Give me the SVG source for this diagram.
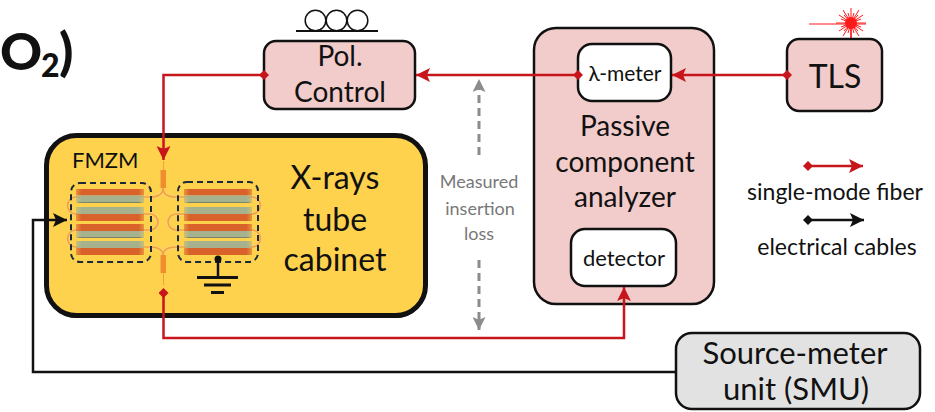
<svg xmlns="http://www.w3.org/2000/svg" width="935" height="412" viewBox="0 0 935 412">
  <style>
    text { font-family: Lato, "Open Sans", "Liberation Sans", sans-serif; fill: #111; }
    .lbl { text-anchor: middle; }
    .box { stroke: #111; stroke-width: 2.5; }
    .pink { fill: #F2CBCB; }
    .white { fill: #FFFFFF; }
    .fiber { fill: none; stroke: #C8151B; stroke-width: 2.5; }
    .wire { fill: none; stroke: #111; stroke-width: 2.5; }
    .meas { fill: none; stroke: #8C8C8C; stroke-width: 3; stroke-dasharray: 8 5; }
    .note { fill: #787878; }
    .wg { fill: none; stroke: #F3A23A; stroke-width: 1.6; }
    .wgGlow { fill: none; stroke: #FBD27E; stroke-width: 4; opacity: 0.7; }
    .org { fill: #D9622B; }
    .grn { fill: #A6B28E; }
    .dash { fill: none; stroke: #1B2A3A; stroke-width: 2; stroke-dasharray: 6 4; }
  </style>
  <defs>
    <marker id="arrRed" viewBox="0 0 14 14" refX="14" refY="7" markerWidth="14" markerHeight="14" markerUnits="userSpaceOnUse" orient="auto">
      <path d="M0,0 L14,7 L0,14 L3,7 z" fill="#C8151B"/>
    </marker>
    <marker id="dmRed" viewBox="0 0 10 10" refX="5" refY="5" markerWidth="10" markerHeight="10" markerUnits="userSpaceOnUse" orient="auto">
      <path d="M5,0 L10,5 L5,10 L0,5 z" fill="#C8151B"/>
    </marker>
    <marker id="arrBlk" viewBox="0 0 14 14" refX="14" refY="7" markerWidth="14" markerHeight="14" markerUnits="userSpaceOnUse" orient="auto">
      <path d="M0,0 L14,7 L0,14 L3,7 z" fill="#111"/>
    </marker>
    <marker id="dmBlk" viewBox="0 0 10 10" refX="5" refY="5" markerWidth="10" markerHeight="10" markerUnits="userSpaceOnUse" orient="auto">
      <path d="M5,0 L10,5 L5,10 L0,5 z" fill="#111"/>
    </marker>
    <marker id="arrGray" viewBox="0 0 14 14" refX="14" refY="7" markerWidth="13" markerHeight="13" markerUnits="userSpaceOnUse" orient="auto">
      <path d="M0,0 L14,7 L0,14 L3,7 z" fill="#8C8C8C"/>
    </marker>
    <linearGradient id="fadeEdges" x1="0" x2="1" y1="0" y2="0">
      <stop offset="0" stop-color="#fff" stop-opacity="0.55"/>
      <stop offset="0.08" stop-color="#fff" stop-opacity="1"/>
      <stop offset="0.92" stop-color="#fff" stop-opacity="1"/>
      <stop offset="1" stop-color="#fff" stop-opacity="0.55"/>
    </linearGradient>
    <mask id="barMask" maskContentUnits="objectBoundingBox">
      <rect x="0" y="0" width="1" height="1" fill="url(#fadeEdges)"/>
    </mask>
    <!-- one electrode stack: four bars of orange/green stripes -->
    <g id="stack">
      <rect class="org" x="0" y="0" width="68" height="6.5"/>
      <rect class="grn" x="0" y="6.5" width="68" height="7.5"/>
      <rect x="2" y="13" width="64" height="1" fill="#5E6650" opacity="0.6"/>
      <rect class="grn" x="0" y="18" width="68" height="7"/>
      <rect class="org" x="0" y="25" width="68" height="7"/>
      <rect class="org" x="0" y="35" width="68" height="7"/>
      <rect class="grn" x="0" y="42" width="68" height="7"/>
      <rect x="2" y="48" width="64" height="1" fill="#5E6650" opacity="0.6"/>
      <rect class="grn" x="0" y="52" width="68" height="7"/>
      <rect class="org" x="0" y="59" width="68" height="7"/>
    </g>
  </defs>

  <!-- heading in the top-left corner -->
  <g id="heading">
    <text x="0" y="70" font-size="52" style="font-weight:900">O</text>
    <text x="41" y="77" font-size="32" style="font-weight:900">2</text>
    <text x="59" y="70" font-size="52" style="font-weight:900">)</text>
  </g>

  <!-- X-ray cabinet with the FMZM chip -->
  <g id="cabinet">
    <rect x="47" y="138" width="379" height="180" rx="30" fill="#111"/>
    <rect x="46.5" y="135.5" width="379" height="180" rx="30" fill="#FFD24D" stroke="#111" stroke-width="5"/>
    <text x="72" y="168" font-size="22">FMZM</text>
    <text class="lbl" x="335" y="189" font-size="32">X-rays</text>
    <text class="lbl" x="335" y="231" font-size="32">tube</text>
    <text class="lbl" x="335" y="271" font-size="32">cabinet</text>
  </g>

  <g id="fmzm">
    <!-- waveguides (glow + core) -->
    <g>
      <path class="wgGlow" d="M163,188 Q163,197 150,197 L76,197 A8.5,8.5 0 0 0 76,214 L150,214 A8,8 0 0 1 150,230 L76,230 A8.5,8.5 0 0 0 76,247 L150,247 Q163,247 163,256"/>
      <path class="wgGlow" d="M163,188 Q163,197 176,197 L252,197 A8.5,8.5 0 0 1 252,214 L176,214 A8,8 0 0 0 176,230 L252,230 A8.5,8.5 0 0 1 252,247 L176,247 Q163,247 163,256"/>
      <path class="wg" d="M163,188 Q163,197 150,197 L76,197 A8.5,8.5 0 0 0 76,214 L150,214 A8,8 0 0 1 150,230 L76,230 A8.5,8.5 0 0 0 76,247 L150,247 Q163,247 163,256"/>
      <path class="wg" d="M163,188 Q163,197 176,197 L252,197 A8.5,8.5 0 0 1 252,214 L176,214 A8,8 0 0 0 176,230 L252,230 A8.5,8.5 0 0 1 252,247 L176,247 Q163,247 163,256"/>
    </g>
    <!-- fiber pigtails -->
    <rect x="160.5" y="170" width="5.5" height="18" fill="#EE8E2E"/>
    <rect x="160.5" y="255" width="5.5" height="18" fill="#EE8E2E"/>
    <line x1="163.5" y1="161" x2="163.5" y2="170" stroke="#F3A23A" stroke-width="1"/>
    <line x1="163.5" y1="273" x2="163.5" y2="285" stroke="#F3A23A" stroke-width="1"/>
    <!-- electrode stacks -->
    <use href="#stack" x="76" y="189" mask="url(#barMask)"/>
    <use href="#stack" x="184" y="189" mask="url(#barMask)"/>
    <rect class="dash" x="71" y="183" width="80" height="79" rx="9"/>
    <rect class="dash" x="178" y="182" width="80" height="80" rx="9"/>
    <!-- ground -->
    <circle cx="218" cy="259" r="3.5" fill="#111"/>
    <line x1="218" y1="259" x2="218" y2="277" stroke="#111" stroke-width="2.5"/>
    <line x1="197" y1="277.5" x2="238" y2="277.5" stroke="#111" stroke-width="3"/>
    <line x1="204" y1="285" x2="231" y2="285" stroke="#111" stroke-width="3"/>
    <line x1="211" y1="292.5" x2="224" y2="292.5" stroke="#111" stroke-width="3"/>
  </g>

  <!-- polarization controller -->
  <g id="pol-control">
    <circle cx="315.5" cy="20.5" r="10.3" fill="#fff" stroke="#111" stroke-width="1.5"/>
    <circle cx="336.5" cy="20.5" r="10.3" fill="#fff" stroke="#111" stroke-width="1.5"/>
    <circle cx="357.5" cy="20.5" r="10.3" fill="#fff" stroke="#111" stroke-width="1.5"/>
    <line x1="296" y1="31" x2="378" y2="31" stroke="#111" stroke-width="2"/>
    <rect class="box pink" x="264" y="41" width="151" height="68" rx="12"/>
    <text class="lbl" x="340" y="66" font-size="28">Pol.</text>
    <text class="lbl" x="340" y="102" font-size="28">Control</text>
  </g>

  <!-- passive component analyzer -->
  <g id="analyzer">
    <rect class="box pink" x="534" y="28" width="180" height="276" rx="22"/>
    <text class="lbl" x="625" y="136" font-size="28">Passive</text>
    <text class="lbl" x="625" y="172" font-size="28">component</text>
    <text class="lbl" x="625" y="207" font-size="28">analyzer</text>
  </g>
  <g id="lambda-meter">
    <rect class="box white" x="578" y="44" width="93" height="57" rx="14"/>
    <text class="lbl" x="625" y="81" font-size="21">λ-meter</text>
  </g>
  <g id="detector">
    <rect class="box white" x="571" y="229" width="105" height="57" rx="14"/>
    <text class="lbl" x="624" y="266" font-size="22">detector</text>
  </g>

  <!-- tunable laser source -->
  <g id="tls">
    <line x1="809" y1="24" x2="866" y2="24" stroke="#FF1A1A" stroke-width="1.2"/>
    <line x1="851" y1="24" x2="851" y2="39" stroke="#FF1A1A" stroke-width="1.5"/>
    <g stroke="#FF1A1A" stroke-width="1" transform="translate(851,23)">
      <line x1="0" y1="0" x2="15" y2="0"/><line x1="0" y1="0" x2="10" y2="4"/>
      <line x1="0" y1="0" x2="12" y2="8"/><line x1="0" y1="0" x2="7" y2="8"/>
      <line x1="0" y1="0" x2="8" y2="13"/><line x1="0" y1="0" x2="3" y2="10"/>
      <line x1="0" y1="0" x2="0" y2="15"/><line x1="0" y1="0" x2="-3" y2="10"/>
      <line x1="0" y1="0" x2="-8" y2="13"/><line x1="0" y1="0" x2="-7" y2="8"/>
      <line x1="0" y1="0" x2="-12" y2="8"/><line x1="0" y1="0" x2="-10" y2="4"/>
      <line x1="0" y1="0" x2="-15" y2="0"/><line x1="0" y1="0" x2="-10" y2="-4"/>
      <line x1="0" y1="0" x2="-12" y2="-8"/><line x1="0" y1="0" x2="-7" y2="-8"/>
      <line x1="0" y1="0" x2="-8" y2="-13"/><line x1="0" y1="0" x2="-3" y2="-10"/>
      <line x1="0" y1="0" x2="0" y2="-15"/><line x1="0" y1="0" x2="3" y2="-10"/>
      <line x1="0" y1="0" x2="8" y2="-13"/><line x1="0" y1="0" x2="7" y2="-8"/>
      <line x1="0" y1="0" x2="12" y2="-8"/><line x1="0" y1="0" x2="10" y2="-4"/>
    </g>
    <circle cx="851" cy="23" r="6" fill="#FF1A1A"/>
    <rect class="box pink" x="787" y="39" width="95" height="72" rx="12"/>
    <text class="lbl" x="835" y="88" font-size="32">TLS</text>
  </g>

  <!-- source-meter unit -->
  <g id="smu">
    <rect class="box" x="676" y="333" width="244" height="76" rx="16" fill="#E2E2E2"/>
    <text class="lbl" x="795" y="364" font-size="31">Source-meter</text>
    <text class="lbl" x="796" y="400" font-size="31">unit (SMU)</text>
  </g>

  <!-- legend -->
  <g id="legend">
    <line class="fiber" x1="808" y1="166" x2="863" y2="166" marker-start="url(#dmRed)" marker-end="url(#arrRed)"/>
    <text class="lbl" x="835" y="200" font-size="23">single-mode fiber</text>
    <line class="wire" x1="808" y1="220" x2="864" y2="220" marker-start="url(#dmBlk)" marker-end="url(#arrBlk)"/>
    <text class="lbl" x="837" y="255" font-size="23">electrical cables</text>
  </g>

  <!-- measured insertion loss -->
  <g id="insertion-loss">
    <line class="meas" x1="479" y1="155" x2="479" y2="79" marker-end="url(#arrGray)"/>
    <line class="meas" x1="479" y1="260" x2="479" y2="330" marker-end="url(#arrGray)"/>
    <text class="lbl note" x="479" y="188" font-size="18">Measured</text>
    <text class="lbl note" x="480" y="215" font-size="18">insertion</text>
    <text class="lbl note" x="479" y="240" font-size="18">loss</text>
  </g>

  <!-- connectors -->
  <g id="connectors">
    <line class="fiber" x1="787" y1="75" x2="672" y2="75" marker-start="url(#dmRed)" marker-end="url(#arrRed)"/>
    <line class="fiber" x1="578" y1="75" x2="416" y2="75" marker-start="url(#dmRed)" marker-end="url(#arrRed)"/>
    <path class="fiber" d="M264,75 H163.5 V160" marker-start="url(#dmRed)" marker-end="url(#arrRed)"/>
    <path class="fiber" d="M163.5,293 V338 H624 V287" marker-start="url(#dmRed)" marker-end="url(#arrRed)"/>
    <path class="wire" d="M676,372 H33 V220 H67" marker-end="url(#arrBlk)"/>
  </g>
</svg>
